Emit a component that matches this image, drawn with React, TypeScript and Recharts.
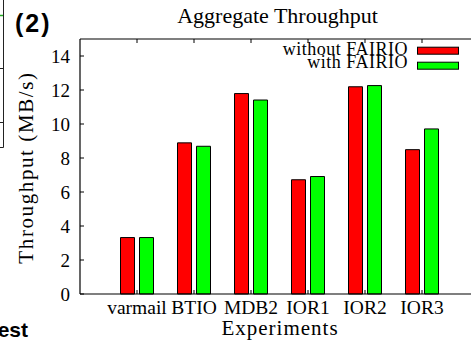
import React from 'react';
import { BarChart, Bar, XAxis, YAxis } from 'recharts';

const experiments = ['varmail', 'BTIO', 'MDB2', 'IOR1', 'IOR2', 'IOR3'];
const positions = [1, 2, 3, 4, 5, 6];
const seriesNames = ['without FAIRIO', 'with FAIRIO'];
const seriesColors = ['#ff0000', '#00ff00'];
const withoutFairio = [3.32, 8.89, 11.79, 6.72, 12.19, 8.49];
const withFairio = [3.32, 8.69, 11.41, 6.91, 12.26, 9.71];
const yTicks = [0, 2, 4, 6, 8, 10, 12, 14];

const data = experiments.map((name, i) => ({
  name,
  pos: positions[i],
  without: withoutFairio[i],
  with: withFairio[i],
}));

const SERIF = '"Liberation Serif", "Times New Roman", serif';
const SANS = '"Liberation Sans", Arial, sans-serif';

const YTick = (props: any) => {
  const { x, y, payload } = props;
  return (
    <g>
      <line x1={x} x2={x + 4} y1={y} y2={y} stroke="#000" strokeWidth={1} />
      <text x={x - 10} y={y} dy="0.35em" textAnchor="end" fontFamily={SERIF} fontSize={19} fill="#000">
        {payload.value}
      </text>
    </g>
  );
};

const XTickBottom = (props: any) => {
  const { x, y, payload } = props;
  const label = experiments[positions.indexOf(payload.value)] ?? '';
  return (
    <g>
      <line x1={x} x2={x} y1={y} y2={y - 4} stroke="#000" strokeWidth={1} />
      <text x={x} y={y + 20} textAnchor="middle" fontFamily={SERIF} fontSize={19.5} fill="#000">
        {label}
      </text>
    </g>
  );
};

const XTickTop = (props: any) => {
  const { x, y } = props;
  return <line x1={x} x2={x} y1={y} y2={y + 4} stroke="#000" strokeWidth={1} />;
};

export default function App() {
  return (
    <div style={{ position: 'absolute', left: 0, top: 0, width: 471, height: 343, background: '#fff' }}>
      <BarChart
        width={471}
        height={343}
        data={data}
        margin={{ top: 38, right: -8, bottom: 48, left: 79 }}
        barGap={5}
        barSize={14}
      >
        <XAxis
          xAxisId="bottom"
          dataKey="pos"
          type="number"
          domain={[0, 7]}
          ticks={positions}
          height={1}
          tickSize={0}
          tickMargin={0}
          tickLine={false}
          tick={<XTickBottom />}
          axisLine={{ stroke: '#000', strokeWidth: 1.2 }}
          interval={0}
        />
        <XAxis
          xAxisId="top"
          orientation="top"
          dataKey="pos"
          type="number"
          domain={[0, 7]}
          ticks={positions}
          height={1}
          tickSize={0}
          tickMargin={0}
          tickLine={false}
          tick={<XTickTop />}
          axisLine={{ stroke: '#000', strokeWidth: 1.2 }}
          interval={0}
        />
        <YAxis
          type="number"
          domain={[0, 15]}
          ticks={yTicks}
          width={1}
          tickSize={0}
          tickMargin={0}
          tickLine={false}
          tick={<YTick />}
          axisLine={{ stroke: '#000', strokeWidth: 1.2 }}
          interval={0}
        />
        <Bar xAxisId="bottom" dataKey="without" name={seriesNames[0]} fill={seriesColors[0]} stroke="#000" strokeWidth={1} isAnimationActive={false} />
        <Bar xAxisId="bottom" dataKey="with" name={seriesNames[1]} fill={seriesColors[1]} stroke="#000" strokeWidth={1} isAnimationActive={false} />
      </BarChart>

      <svg
        width={471}
        height={343}
        style={{ position: 'absolute', left: 0, top: 0, pointerEvents: 'none' }}
      >
        <line x1={3.5} x2={3.5} y1={0} y2={147.5} stroke="#222" strokeWidth={1} />
        <line x1={0} x2={3.5} y1={68.5} y2={68.5} stroke="#222" strokeWidth={1} />
        <line x1={0} x2={3.5} y1={122.5} y2={122.5} stroke="#222" strokeWidth={1} />
        <line x1={0} x2={3.5} y1={147.5} y2={147.5} stroke="#222" strokeWidth={1} />
        <line x1={0} x2={3} y1={15.5} y2={15.5} stroke="#2a2" strokeWidth={1.5} />
        <text x={15} y={31.5} fontFamily={SANS} fontWeight="bold" fontSize={25} letterSpacing={2} fill="#000">(2)</text>
        <text x={28} y={336.5} textAnchor="end" fontFamily={SANS} fontWeight="bold" fontSize={21} fill="#000">est</text>
        <text x={277.5} y={23} textAnchor="middle" fontFamily={SERIF} fontSize={22} fill="#000">Aggregate Throughput</text>
        <text x={280} y={335} textAnchor="middle" fontFamily={SERIF} fontSize={21} letterSpacing={1} fill="#000">Experiments</text>
        <text
          x={33}
          y={167.5}
          textAnchor="middle"
          transform="rotate(-90 33 167.5)"
          fontFamily={SERIF}
          fontSize={21}
          letterSpacing={1.6}
          fill="#000"
        >
          Throughput (MB/s)
        </text>
        {seriesNames.map((name, i) => (
          <g key={name}>
            <text
              x={408}
              y={55.3 + i * 13}
              textAnchor="end"
              fontFamily={SERIF}
              fontSize={18}
              letterSpacing={0.5}
              fill="#000"
            >
              {name}
            </text>
            <rect x={417.5} y={47.2 + i * 15} width={41} height={7} fill={seriesColors[i]} stroke="#000" strokeWidth={1} />
          </g>
        ))}
      </svg>
    </div>
  );
}
